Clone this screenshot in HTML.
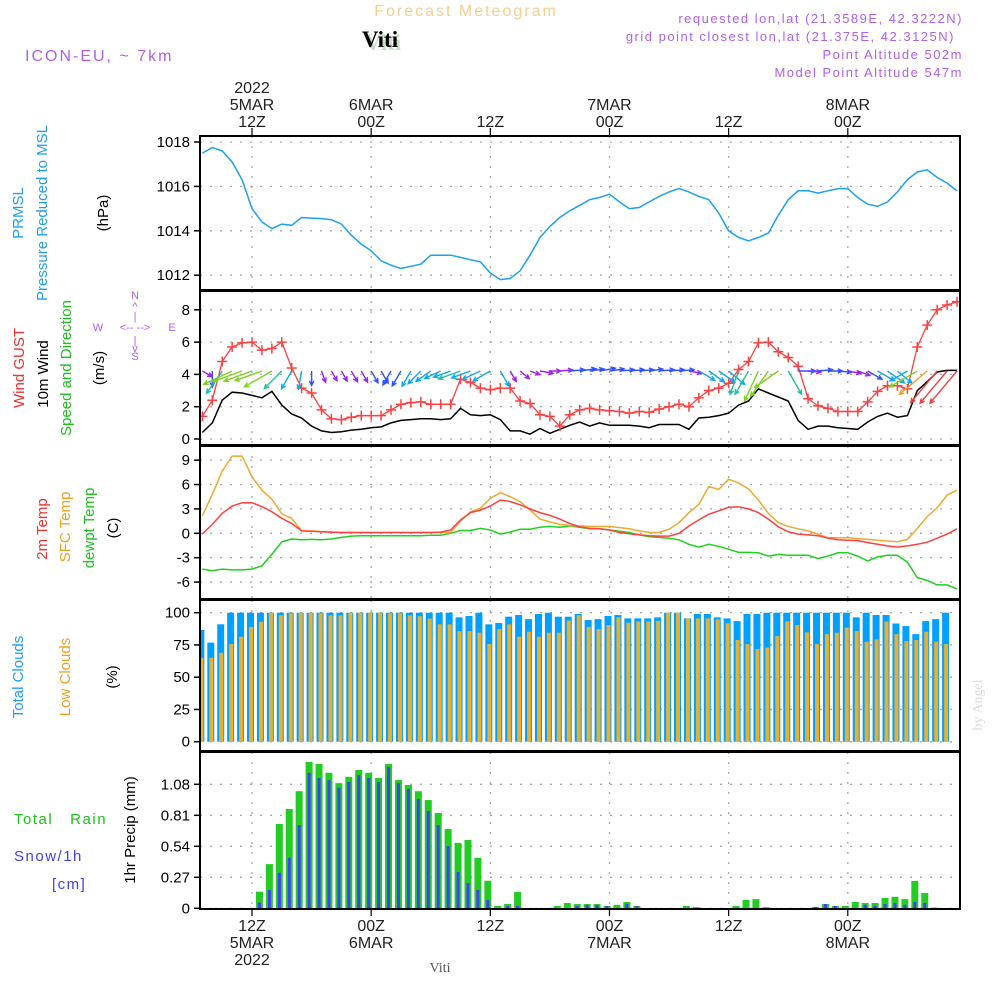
<!DOCTYPE html>
<html><head><meta charset="utf-8"><style>
html,body{margin:0;padding:0;background:#fff;}
svg{display:block;}
text{font-family:"Liberation Sans",sans-serif;}
text.serif{font-family:"Liberation Serif",serif;}
</style></head><body>
<svg id="chart" width="1000" height="1000" viewBox="0 0 1000 1000" xmlns="http://www.w3.org/2000/svg">
<defs>
<clipPath id="c1"><rect x="200" y="136" width="760" height="154"/></clipPath>
<clipPath id="c2"><rect x="200" y="291" width="760" height="154"/></clipPath>
<clipPath id="c3"><rect x="200" y="446" width="760" height="153"/></clipPath>
<clipPath id="c4"><rect x="200" y="600" width="760" height="151"/></clipPath>
<clipPath id="c5"><rect x="200" y="752" width="760" height="157"/></clipPath>
</defs>
<g id="headers">
<text x="466" y="16" text-anchor="middle" font-size="16" fill="#f3cf8f" letter-spacing="2">Forecast Meteogram</text>
<text class="serif" x="383" y="50" text-anchor="middle" font-size="23" font-weight="bold" fill="#c8dcc8" style="font-family:'Liberation Serif',serif">Viti</text>
<text class="serif" x="380" y="47" text-anchor="middle" font-size="23" font-weight="bold" fill="#000" style="font-family:'Liberation Serif',serif">Viti</text>
<text x="25" y="61" font-size="16" fill="#b060f0" letter-spacing="2">ICON-EU, ~ 7km</text>
<text x="963" y="23" text-anchor="end" font-size="13" fill="#b060f0" letter-spacing="1.5">requested lon,lat (21.3589E, 42.3222N)</text>
<text x="955" y="41" text-anchor="end" font-size="13" fill="#b060f0" letter-spacing="1.5">grid point closest lon,lat (21.375E, 42.3125N)</text>
<text x="963" y="59" text-anchor="end" font-size="13" fill="#b060f0" letter-spacing="1.5">Point Altitude 502m</text>
<text x="963" y="77" text-anchor="end" font-size="13" fill="#b060f0" letter-spacing="1.5">Model Point Altitude 547m</text>
<text class="serif" x="440" y="972" text-anchor="middle" font-size="14" fill="#555" style="font-family:'Liberation Serif',serif">Viti</text>
<text class="serif" transform="translate(982,705) rotate(-90)" text-anchor="middle" font-size="14" fill="#ddd" style="font-family:'Liberation Serif',serif">by Angel</text>
</g>
<g id="leftlabels" font-size="15">
<text transform="translate(23,213) rotate(-90)" text-anchor="middle" fill="#1e9ff0">PRMSL</text>
<text transform="translate(47,213) rotate(-90)" text-anchor="middle" fill="#1e9ff0">Pressure Reduced to MSL</text>
<text transform="translate(108,213) rotate(-90)" text-anchor="middle" fill="#000">(hPa)</text>
<text transform="translate(24,368) rotate(-90)" text-anchor="middle" fill="#f03030">Wind GUST</text>
<text transform="translate(48,374) rotate(-90)" text-anchor="middle" fill="#000">10m Wind</text>
<text transform="translate(71,368) rotate(-90)" text-anchor="middle" fill="#20c020">Speed and Direction</text>
<text transform="translate(104,368) rotate(-90)" text-anchor="middle" fill="#000">(m/s)</text>
<g fill="#b060f0" font-size="11" text-anchor="middle">
<text x="135" y="299">N</text><text x="135" y="310">^</text><text x="135" y="320">|</text>
<text x="98" y="331">W</text><text x="135" y="331">&lt;-- --&gt;</text><text x="172" y="331">E</text>
<text x="135" y="344">|</text><text x="135" y="352">v</text><text x="135" y="360">S</text>
</g>
<text transform="translate(47,529) rotate(-90)" text-anchor="middle" fill="#f03030">2m Temp</text>
<text transform="translate(70,527) rotate(-90)" text-anchor="middle" fill="#f0a020">SFC Temp</text>
<text transform="translate(94,528) rotate(-90)" text-anchor="middle" fill="#20c020">dewpt Temp</text>
<text transform="translate(118,528) rotate(-90)" text-anchor="middle" fill="#000">(C)</text>
<text transform="translate(23,677) rotate(-90)" text-anchor="middle" fill="#1e9ff0">Total Clouds</text>
<text transform="translate(70,677) rotate(-90)" text-anchor="middle" fill="#f0a020">Low Clouds</text>
<text transform="translate(117,677) rotate(-90)" text-anchor="middle" fill="#000">(%)</text>
<text x="14" y="824" fill="#20c020" letter-spacing="1.5">Total&#160;&#160;&#160;Rain</text>
<text x="14" y="861" fill="#4040f0" letter-spacing="1.5">Snow/1h</text>
<text x="52" y="889" fill="#4040f0" letter-spacing="1.5">[cm]</text>
<text transform="translate(135,830) rotate(-90)" text-anchor="middle" fill="#000">1hr Precip (mm)</text>
</g>
<g id="grid"></g>
<g id="marks"></g>
<g id="frames"></g>
<g id="axes"></g>
</svg>
<script>
// ---- data (hourly from 07Z 5MAR) ----
var pressure = [1017.5,1017.75,1017.6,1017.1,1016.3,1015.0,1014.4,1014.1,1014.3,1014.25,1014.6,1014.57,1014.55,1014.5,1014.3,1013.8,1013.4,1013.1,1012.65,1012.45,1012.3,1012.4,1012.5,1012.9,1012.9,1012.9,1012.8,1012.7,1012.6,1012.1,1011.8,1011.85,1012.2,1012.9,1013.7,1014.2,1014.6,1014.9,1015.15,1015.4,1015.5,1015.65,1015.3,1015.0,1015.05,1015.3,1015.55,1015.75,1015.9,1015.75,1015.55,1015.4,1014.8,1014.0,1013.7,1013.55,1013.7,1013.9,1014.7,1015.4,1015.8,1015.8,1015.7,1015.8,1015.9,1015.9,1015.5,1015.2,1015.1,1015.3,1015.75,1016.3,1016.65,1016.75,1016.4,1016.15,1015.8];
var gust = [1.4,2.4,4.8,5.7,5.95,6.0,5.5,5.6,6.0,4.4,3.15,2.85,1.8,1.25,1.2,1.35,1.45,1.45,1.45,1.8,2.15,2.25,2.3,2.15,2.15,2.15,3.7,3.5,3.15,3.05,3.15,3.15,2.35,2.2,1.5,1.4,0.8,1.5,1.8,1.9,1.8,1.75,1.7,1.6,1.7,1.65,1.85,2.0,2.15,2.0,2.55,3.0,3.15,3.45,4.3,4.8,5.95,6.0,5.4,5.05,4.5,2.5,2.05,1.9,1.7,1.7,1.7,2.3,2.95,3.3,3.3,3.1,5.7,7.05,8.0,8.3,8.5];
var wind10m = [0.4,1.0,2.4,2.9,2.85,2.7,2.55,2.95,2.1,1.55,1.3,0.8,0.5,0.4,0.45,0.55,0.6,0.7,0.75,1.0,1.15,1.2,1.25,1.25,1.2,1.25,1.9,1.5,1.45,1.5,1.2,0.5,0.5,0.3,0.65,0.35,0.6,0.85,1.05,0.8,1.0,0.85,0.85,0.85,0.8,0.7,0.9,0.9,0.9,0.6,1.3,1.35,1.45,1.6,2.1,2.35,3.1,2.85,2.6,2.35,1.15,0.6,0.8,0.8,0.7,0.65,0.6,1.05,1.4,1.6,1.35,1.45,3.0,3.55,4.15,4.25,4.25];
var windDir = [330,270,235,205,200,200,200,210,225,240,260,270,290,300,300,300,300,300,300,240,240,240,225,215,205,200,200,200,205,210,300,300,320,340,350,0,5,5,8,8,10,8,5,5,5,8,5,5,5,-10,-30,-35,-35,-40,250,240,245,235,215,300,0,-5,5,0,-5,-10,-20,-30,-30,-35,-40,210,210,220,230,230,230];
var temp2m = [-0.1,1.1,2.45,3.35,3.75,3.75,3.3,2.65,1.85,1.2,0.3,0.25,0.2,0.15,0.1,0.1,0.1,0.1,0.1,0.1,0.1,0.1,0.1,0.1,0.15,0.4,1.65,2.55,2.85,3.35,4.1,3.9,3.5,3.0,2.55,2.2,1.75,1.2,0.8,0.6,0.55,0.4,0.1,-0.05,-0.2,-0.3,-0.35,-0.35,0.0,0.9,1.65,2.35,2.75,3.2,3.25,3.0,2.55,1.75,0.8,0.2,-0.1,-0.2,-0.3,-0.6,-0.8,-0.85,-0.9,-1.15,-1.35,-1.55,-1.7,-1.55,-1.35,-1.1,-0.6,-0.1,0.55];
var sfcTemp = [2.15,4.8,7.65,9.5,9.5,6.95,5.3,4.2,2.4,1.85,0.3,0.3,0.2,0.15,0.1,0.1,0.1,0.1,0.1,0.1,0.1,0.1,0.1,0.1,0.1,0.1,1.5,2.65,3.1,4.3,5.0,4.5,3.9,2.85,1.75,1.4,1.1,0.95,0.9,0.85,0.85,0.85,0.7,0.55,0.3,0.1,0.1,0.5,1.3,2.55,3.55,5.75,5.4,6.65,6.2,5.45,4.1,2.45,1.3,0.85,0.55,0.3,-0.1,-0.55,-0.55,-0.55,-0.65,-0.75,-0.85,-0.95,-1.05,-0.75,0.6,2.05,3.15,4.7,5.3];
var dewpt = [-4.4,-4.6,-4.4,-4.5,-4.5,-4.4,-4.0,-2.6,-1.05,-0.7,-0.8,-0.75,-0.8,-0.7,-0.5,-0.35,-0.3,-0.3,-0.3,-0.3,-0.3,-0.3,-0.3,-0.25,-0.25,0.0,0.35,0.35,0.6,0.4,-0.1,0.15,0.5,0.5,0.75,0.85,0.75,0.9,0.75,0.55,0.55,0.4,0.25,0.1,-0.2,-0.4,-0.5,-0.6,-0.8,-1.35,-1.7,-1.35,-1.6,-1.95,-2.35,-2.35,-2.4,-2.8,-2.6,-2.7,-2.7,-2.7,-3.1,-2.8,-2.4,-2.4,-2.8,-3.4,-2.9,-2.7,-2.7,-3.55,-5.45,-5.8,-6.35,-6.35,-6.85];
var totalClouds = [86.6,76.8,91,100,100,100,100,100,100,100,100,100,100,100,100,100,100,100,100,100,100,100,100,100,100,100,96.4,97.5,100,91,92,96.9,98.2,95,99,100,96.9,96.9,99,94.3,95,97.5,98.2,95.6,95.6,95.6,96.4,100,100,95.6,99,99,96.4,95.6,93.5,99,99,100,100,100,100,100,100,100,100,100,96.4,100,98.2,98.2,91.6,89.6,83.4,93.5,95,100];
var lowClouds = [65,65,69,75.7,81.4,89,93,100,98,99.5,100,100,99.5,98,98,100,100,100,100,99.5,99.5,98,97.3,95.5,91,91,85.8,85.8,84.5,75.7,87.3,91,81.4,85.3,81.4,84.5,84.5,94,98,89,87.3,90.4,96.5,92.3,93.2,93.2,93.7,100,100,95.6,95.6,95.6,94.8,91.9,78.8,75.7,71.8,72.9,81.9,93.2,90.4,84.7,75.7,83.4,84.5,88.4,85.8,77.5,79.3,93.2,83.4,78,78.8,85.3,77.5,75.7];
var totalRain = [0,0,0,0,0,0.145,0.385,0.735,0.865,1.02,1.275,1.257,1.18,1.09,1.145,1.205,1.18,1.135,1.257,1.117,1.074,1.02,0.943,0.83,0.69,0.57,0.595,0.44,0.24,0.02,0.038,0.142,0,0,0,0.02,0.046,0.037,0.037,0.037,0.02,0.03,0.055,0.02,0,0,0,0,0.02,0.01,0,0,0,0.02,0.073,0.08,0.01,0,0,0,0,0.012,0.037,0.02,0.02,0.055,0.046,0.046,0.09,0.1,0.08,0.238,0.133,0.005,0,0];
var snow1h = [0,0,0,0,0,0.05,0.16,0.31,0.44,0.725,1.18,1.135,1.117,1.05,1.10,1.16,1.135,1.10,1.231,1.09,1.04,0.952,0.848,0.725,0.543,0.316,0.22,0.16,0.073,0,0.02,0.02,0,0,0,0,0,0.02,0.03,0.03,0.02,0,0.037,0.02,0,0,0,0,0,0,0,0,0,0,0,0,0,0,0,0,0,0.012,0.037,0.02,0,0,0.03,0.02,0.037,0.046,0.03,0.055,0.046,0.005,0,0];
var pTicks = [1012,1014,1016,1018];
var wTicks = [0,2,4,6,8];
var tTicks = [-6,-3,0,3,6,9];
var cTicks = [0,25,50,75,100];
var rTicks = [0.27,0.54,0.81,1.08];
var timeTickHours = [12,24,36,48,60,72];
var topLabels = [["2022","5MAR","12Z"],["","6MAR","00Z"],["","","12Z"],["","7MAR","00Z"],["","","12Z"],["","8MAR","00Z"]];
var botLabels = [["12Z","5MAR","2022"],["00Z","6MAR",""],["12Z","",""],["00Z","7MAR",""],["12Z","",""],["00Z","8MAR",""]];

var NS="http://www.w3.org/2000/svg";
function xh(h){return 252+(h-12)*9.93;}
function yP(v){return 142+(1018-v)*22.2;}
function yW(v){return 439-v*16.15;}
function yT(v){return 533.3-v*8.13;}
function yC(v){return 741.7-v*1.29;}
function yR(v){return 908.3-v*114.8;}
function mk(tag,attrs,parent){var e=document.createElementNS(NS,tag);for(var k in attrs)e.setAttribute(k,attrs[k]);parent.appendChild(e);return e;}
var grid=document.getElementById('grid'),marks=document.getElementById('marks'),frames=document.getElementById('frames'),axes=document.getElementById('axes');
var panels=[{t:136,b:290,ticks:pTicks,f:yP,lab:function(v){return v;}},{t:291,b:445,ticks:wTicks,f:yW,lab:function(v){return v;}},{t:446,b:599,ticks:tTicks,f:yT,lab:function(v){return v;}},{t:600,b:751,ticks:cTicks,f:yC,lab:function(v){return v;}},{t:752,b:909,ticks:rTicks.concat([0]),f:yR,lab:function(v){return v===0?"0":v.toFixed(2);}}];
panels.forEach(function(p,pi){
  p.ticks.forEach(function(v){
    var y=p.f(v);
    var gl=mk('line',{x1:200,x2:960,y1:y,y2:y,stroke:'#aaa','stroke-width':1.3,'stroke-dasharray':'2 8'},grid);
    
    
    var tk=mk('line',{x1:194,x2:200,y1:y,y2:y,stroke:'#000','stroke-width':1.5},axes);
    
    
    var tl=mk('text',{x:190,y:y+5,'text-anchor':'end','font-size':15,fill:'#000'},axes);
    tl.textContent=p.lab(v);
    
    
  });
  timeTickHours.forEach(function(h){
    var x=xh(h);
    var vl=mk('line',{x1:x,x2:x,y1:p.t,y2:p.b,stroke:'#aaa','stroke-width':1.3,'stroke-dasharray':'2 8'},grid);
    
    
  });
  var fr=mk('rect',{x:200,y:p.t,width:760,height:p.b-p.t,fill:'none',stroke:'#000','stroke-width':2},frames);
  
  
});
timeTickHours.forEach(function(h,i){
  var x=xh(h);
  mk('line',{x1:x,x2:x,y1:128,y2:136,stroke:'#000','stroke-width':1.2},axes);
  mk('line',{x1:x,x2:x,y1:909,y2:916,stroke:'#000','stroke-width':1.2},axes);
  topLabels[i].forEach(function(s,j){ if(!s)return;
    var t=mk('text',{x:x,y:93+j*17,'text-anchor':'middle','font-size':16,fill:'#222'},axes);
    t.textContent=s;
    
    
  });
  botLabels[i].forEach(function(s,j){ if(!s)return;
    var t=mk('text',{x:x,y:931+j*17,'text-anchor':'middle','font-size':16,fill:'#222'},axes);
    t.textContent=s;
    
    
  });
});
function line(arr,yf,color,clip,name,w){
  var d=arr.map(function(v,i){return (i?'L':'M')+xh(7+i).toFixed(1)+' '+yf(v).toFixed(1);}).join(' ');
  var g=mk('g',{'clip-path':'url(#'+clip+')'},marks);
  var p=mk('path',{d:d,fill:'none',stroke:color,'stroke-width':w||1.5},g);
  
  
  return g;
}
line(pressure,yP,'#1ea0f0','c1','pressure-line');
line(wind10m,yW,'#000','c2','wind-10m-line');
var gg=line(gust,yW,'#ff4040','c2','wind-gust-line',1.3);
gust.forEach(function(v,i){
  var x=xh(7+i),y=yW(v);
  var m=mk('path',{d:'M'+(x-5)+' '+y+'H'+(x+5)+'M'+x+' '+(y-5)+'V'+(y+5),stroke:'#ff4040','stroke-width':1.5},gg);
  
  
});
function wcol(s){return s<0.7?'#a020f0':s<1.2?'#3050ff':s<1.8?'#10a8f0':s<2.5?'#20c0a0':s<3.2?'#80d020':s<3.9?'#f0a020':'#f04040';}
var ag=mk('g',{'clip-path':'url(#c2)'},marks);
wind10m.forEach(function(s,i){
  var x=xh(7+i),y=371,L=8+8*s,a=windDir[i]*Math.PI/180;
  var x2=x+L*Math.cos(a),y2=y-L*Math.sin(a),c=wcol(s);
  var h1=a+Math.PI-0.45,h2=a+Math.PI+0.45;
  var d='M'+x.toFixed(1)+' '+y+'L'+x2.toFixed(1)+' '+y2.toFixed(1)+'M'+(x2+5*Math.cos(h1)).toFixed(1)+' '+(y2-5*Math.sin(h1)).toFixed(1)+'L'+x2.toFixed(1)+' '+y2.toFixed(1)+'L'+(x2+5*Math.cos(h2)).toFixed(1)+' '+(y2-5*Math.sin(h2)).toFixed(1);
  var p=mk('path',{d:d,stroke:c,'stroke-width':1.4,fill:'none'},ag);
  
  
});
line(dewpt,yT,'#20d020','c3','dewpt-line');
line(sfcTemp,yT,'#f0a830','c3','sfc-temp-line');
line(temp2m,yT,'#ff4040','c3','temp-2m-line');
var cg=mk('g',{'clip-path':'url(#c4)'},marks);
totalClouds.forEach(function(v,i){
  var x=xh(6.85+i);
  var b=mk('rect',{x:x-3.5,y:yC(v),width:7,height:yC(0)-yC(v),fill:'#00a0ff'},cg);
  
  
  var o=mk('rect',{x:x-1.5,y:yC(lowClouds[i]),width:4,height:yC(0)-yC(lowClouds[i]),fill:'#e8b030'},cg);
  
  
});
var rg=mk('g',{'clip-path':'url(#c5)'},marks);
totalRain.forEach(function(v,i){
  var x=xh(7.75+i);
  if(v>0){var b=mk('rect',{x:x-3.5,y:yR(v),width:7,height:yR(0)-yR(v),fill:'#22cc22'},rg);
  
  }
  var s=snow1h[i];
  if(s>0){var o=mk('rect',{x:x-1.5,y:yR(s),width:3,height:yR(0)-yR(s),fill:'#4040ff'},rg);
  
  }
});
</script>
</body></html>
